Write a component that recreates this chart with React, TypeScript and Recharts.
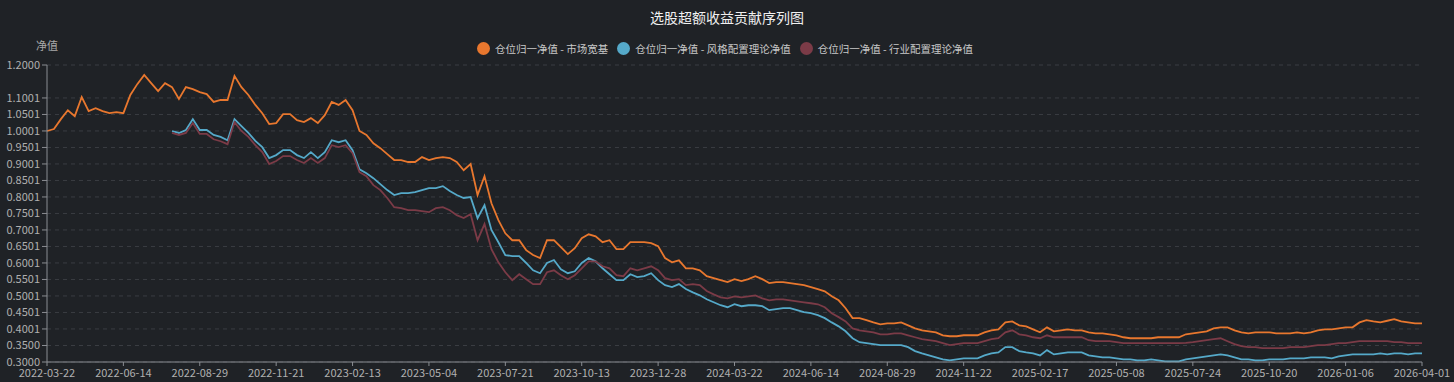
import React from 'react';
import { LineChart, Line, XAxis, YAxis, CartesianGrid } from 'recharts';

const STEP = 5; // trading days between sampled points

const tickDates = [
  '2022-03-22', '2022-06-14', '2022-08-29', '2022-11-21', '2023-02-13', '2023-05-04',
  '2023-07-21', '2023-10-13', '2023-12-28', '2024-03-22', '2024-06-14', '2024-08-29',
  '2024-11-22', '2025-02-17', '2025-05-08', '2025-07-24', '2025-10-20', '2026-01-06', '2026-04-01',
];
const TICK_EVERY = 55;

const yTicks = [
  0.3, 0.35, 0.4001, 0.4501, 0.5001, 0.5501, 0.6001, 0.6501, 0.7001, 0.7501,
  0.8001, 0.8501, 0.9001, 0.9501, 1.0001, 1.0501, 1.1001, 1.2,
];

// 仓位归一净值 - 市场宽基
const marketNav = [
  1.000, 1.006, 1.036, 1.063, 1.045, 1.103, 1.060, 1.069, 1.060, 1.054,
  1.057, 1.054, 1.109, 1.142, 1.170, 1.145, 1.121, 1.145, 1.133, 1.097,
  1.133, 1.127, 1.118, 1.112, 1.088, 1.094, 1.094, 1.167, 1.133, 1.109,
  1.079, 1.054, 1.021, 1.024, 1.051, 1.051, 1.033, 1.027, 1.039, 1.024,
  1.048, 1.088, 1.079, 1.094, 1.063, 1.000, 0.988, 0.963, 0.948, 0.930,
  0.912, 0.912, 0.906, 0.906, 0.921, 0.912, 0.918, 0.921, 0.918, 0.906,
  0.881, 0.900, 0.806, 0.863, 0.781, 0.730, 0.690, 0.669, 0.669, 0.639,
  0.624, 0.615, 0.669, 0.669, 0.648, 0.627, 0.645, 0.675, 0.687, 0.681,
  0.663, 0.669, 0.642, 0.642, 0.663, 0.663, 0.663, 0.660, 0.651, 0.615,
  0.602, 0.608, 0.584, 0.584, 0.578, 0.560, 0.554, 0.548, 0.542, 0.551,
  0.545, 0.551, 0.560, 0.551, 0.539, 0.542, 0.542, 0.539, 0.536, 0.533,
  0.527, 0.521, 0.514, 0.499, 0.487, 0.463, 0.433, 0.433, 0.427, 0.420,
  0.414, 0.417, 0.417, 0.420, 0.411, 0.402, 0.396, 0.393, 0.390, 0.381,
  0.378, 0.378, 0.381, 0.381, 0.381, 0.390, 0.396, 0.399, 0.420, 0.423,
  0.411, 0.408, 0.399, 0.390, 0.405, 0.393, 0.396, 0.399, 0.396, 0.396,
  0.390, 0.387, 0.387, 0.384, 0.381, 0.375, 0.372, 0.372, 0.372, 0.372,
  0.375, 0.375, 0.375, 0.375, 0.384, 0.387, 0.390, 0.393, 0.402, 0.405,
  0.405, 0.396, 0.390, 0.387, 0.390, 0.390, 0.390, 0.387, 0.387, 0.387,
  0.390, 0.387, 0.390, 0.396, 0.399, 0.399, 0.402, 0.405, 0.405, 0.420,
  0.427, 0.423, 0.420, 0.425, 0.430, 0.423, 0.420, 0.417, 0.417,
];

// the two theory series start later
const LATE_START = 18;

// 仓位归一净值 - 风格配置理论净值
const styleNav = [
  1.000, 0.994,
  1.003, 1.036, 1.003, 1.003, 0.988, 0.982, 0.972, 1.036, 1.015, 0.994,
  0.970, 0.951, 0.918, 0.927, 0.942, 0.942, 0.927, 0.918, 0.936, 0.918,
  0.936, 0.972, 0.966, 0.972, 0.942, 0.884, 0.872, 0.857, 0.839, 0.821,
  0.806, 0.812, 0.812, 0.815, 0.821, 0.827, 0.827, 0.833, 0.818, 0.806,
  0.797, 0.800, 0.736, 0.775, 0.700, 0.663, 0.624, 0.621, 0.621, 0.600,
  0.578, 0.569, 0.600, 0.609, 0.581, 0.569, 0.575, 0.600, 0.615, 0.605,
  0.584, 0.566, 0.548, 0.548, 0.566, 0.557, 0.560, 0.569, 0.548, 0.533,
  0.527, 0.536, 0.521, 0.511, 0.502, 0.490, 0.481, 0.472, 0.466, 0.475,
  0.469, 0.472, 0.472, 0.469, 0.457, 0.460, 0.463, 0.463, 0.457, 0.451,
  0.448, 0.442, 0.433, 0.420, 0.408, 0.393, 0.372, 0.360, 0.357, 0.354,
  0.351, 0.351, 0.351, 0.351, 0.345, 0.333, 0.326, 0.320, 0.314, 0.308,
  0.305, 0.308, 0.311, 0.311, 0.311, 0.320, 0.326, 0.329, 0.345, 0.345,
  0.333, 0.329, 0.326, 0.320, 0.336, 0.323, 0.326, 0.329, 0.329, 0.329,
  0.320, 0.317, 0.314, 0.314, 0.311, 0.308, 0.308, 0.305, 0.305, 0.308,
  0.305, 0.302, 0.302, 0.302, 0.308, 0.311, 0.314, 0.317, 0.320, 0.323,
  0.320, 0.314, 0.308, 0.308, 0.305, 0.305, 0.308, 0.308, 0.308, 0.311,
  0.311, 0.311, 0.314, 0.314, 0.314, 0.311, 0.317, 0.320, 0.323, 0.323,
  0.323, 0.323, 0.326, 0.323, 0.326, 0.326, 0.323, 0.326, 0.326,
];

// 仓位归一净值 - 行业配置理论净值
const industryNav = [
  0.994, 0.988,
  0.994, 1.024, 0.991, 0.991, 0.975, 0.969, 0.960, 1.027, 1.000, 0.982,
  0.957, 0.936, 0.900, 0.909, 0.924, 0.924, 0.912, 0.903, 0.918, 0.903,
  0.918, 0.957, 0.951, 0.957, 0.933, 0.875, 0.863, 0.836, 0.821, 0.797,
  0.769, 0.766, 0.760, 0.760, 0.757, 0.754, 0.766, 0.769, 0.760, 0.745,
  0.736, 0.748, 0.669, 0.718, 0.642, 0.602, 0.572, 0.548, 0.566, 0.551,
  0.536, 0.536, 0.572, 0.578, 0.563, 0.551, 0.563, 0.584, 0.605, 0.605,
  0.590, 0.584, 0.563, 0.560, 0.584, 0.578, 0.584, 0.590, 0.578, 0.554,
  0.548, 0.551, 0.533, 0.536, 0.533, 0.515, 0.505, 0.496, 0.493, 0.499,
  0.496, 0.499, 0.502, 0.493, 0.487, 0.490, 0.490, 0.487, 0.484, 0.481,
  0.478, 0.475, 0.466, 0.448, 0.436, 0.423, 0.402, 0.396, 0.393, 0.390,
  0.384, 0.384, 0.387, 0.387, 0.381, 0.375, 0.369, 0.366, 0.363, 0.357,
  0.351, 0.354, 0.357, 0.357, 0.357, 0.363, 0.369, 0.372, 0.390, 0.396,
  0.384, 0.381, 0.375, 0.372, 0.381, 0.375, 0.375, 0.375, 0.375, 0.375,
  0.366, 0.363, 0.363, 0.363, 0.360, 0.357, 0.357, 0.357, 0.357, 0.357,
  0.357, 0.357, 0.357, 0.357, 0.358, 0.360, 0.363, 0.366, 0.369, 0.372,
  0.363, 0.354, 0.348, 0.345, 0.345, 0.342, 0.342, 0.342, 0.342, 0.345,
  0.345, 0.345, 0.348, 0.351, 0.351, 0.354, 0.357, 0.357, 0.360, 0.363,
  0.363, 0.363, 0.363, 0.363, 0.360, 0.360, 0.357, 0.357, 0.357,
];

const seriesNames = ['仓位归一净值 - 市场宽基', '仓位归一净值 - 风格配置理论净值', '仓位归一净值 - 行业配置理论净值'];
const colors = ['#e8772e', '#55a9c9', '#7b3b47'];

const rows = marketNav.map((v, k) => ({
  i: k * STEP,
  market: v,
  style: k >= LATE_START ? styleNav[k - LATE_START] : null,
  industry: k >= LATE_START ? industryNav[k - LATE_START] : null,
}));

const font = '"Noto Sans CJK SC", "Noto Sans", sans-serif';
const BG = '#1f2226';

export default function App() {
  return (
    <div style={{ position: 'fixed', left: 0, top: 0, width: 1454, height: 382, background: BG, fontFamily: font }}>
      <div style={{ position: 'absolute', top: 7, left: 0, width: 1454, textAlign: 'center', color: '#f0f0f0', fontSize: 14 }}>
        选股超额收益贡献序列图
      </div>
      <div style={{ position: 'absolute', top: 41, left: 0, width: 1450, display: 'flex', justifyContent: 'center', gap: 9 }}>
        {seriesNames.map((n, idx) => (
          <div key={n} style={{ display: 'flex', alignItems: 'center', color: '#c8c8c8', fontSize: 10.5 }}>
            <span style={{ width: 13, height: 13, borderRadius: '50%', background: colors[idx], marginRight: 5, display: 'inline-block' }} />
            {n}
          </div>
        ))}
      </div>
      <div style={{ position: 'absolute', top: 37, left: 36, color: '#aaaaaa', fontSize: 11 }}>净值</div>
      <div style={{ position: 'absolute', left: 0, top: 0 }}>
        <LineChart width={1454} height={382} data={rows} margin={{ top: 65, right: 32, bottom: 0, left: 0 }}>
          <CartesianGrid vertical={false} stroke="#3a3d42" strokeDasharray="4 4" />
          <XAxis
            dataKey="i"
            type="number"
            domain={[0, (tickDates.length - 1) * TICK_EVERY]}
            ticks={tickDates.map((_, j) => j * TICK_EVERY)}
            tickFormatter={(v: number) => tickDates[Math.round(v / TICK_EVERY)]}
            height={20}
            stroke="#8a8d92"
            tickSize={4}
            tickMargin={3}
            tick={{ fill: '#b0b0b0', fontSize: 11, fontFamily: font }}
            interval={0}
          />
          <YAxis
            type="number"
            domain={[0.3, 1.2]}
            ticks={yTicks}
            tickFormatter={(v: number) => v.toFixed(4)}
            width={47}
            stroke="#8a8d92"
            tickSize={5}
            tick={{ fill: '#b0b0b0', fontSize: 11, fontFamily: font }}
            interval={0}
          />
          <Line dataKey="market" stroke={colors[0]} strokeWidth={1.8} dot={false} isAnimationActive={false} />
          <Line dataKey="style" stroke={colors[1]} strokeWidth={1.8} dot={false} isAnimationActive={false} />
          <Line dataKey="industry" stroke={colors[2]} strokeWidth={1.8} dot={false} isAnimationActive={false} />
        </LineChart>
      </div>
    </div>
  );
}
